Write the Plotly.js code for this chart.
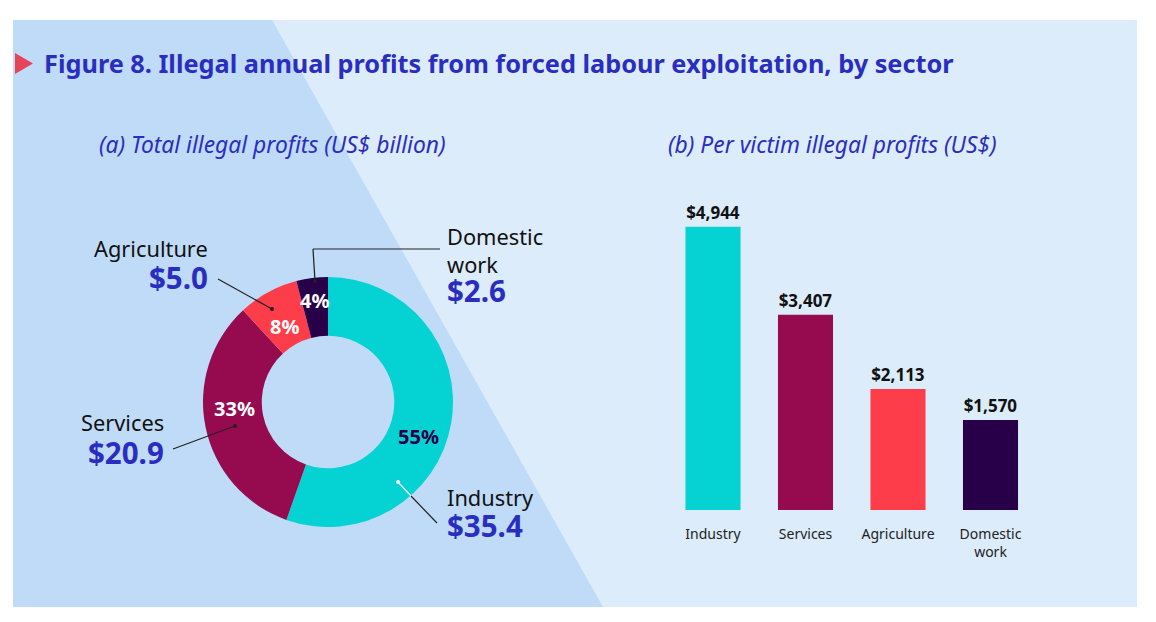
<!DOCTYPE html>
<html>
<head>
<meta charset="utf-8">
<script src="https://cdn.plot.ly/plotly-3.0.1.min.js"></script>
<style>html,body{margin:0;padding:0;background:#fff;}#chart{width:1156px;height:622px;}</style>
</head>
<body>
<div id="chart"></div>
<script>
// ---- data ----
const sectors = ['Industry', 'Services', 'Agriculture', 'Domestic work'];
const sectorLabelLines = ['Industry', 'Services', 'Agriculture', 'Domestic<br>work'];
const totalProfits = [35.4, 20.9, 5.0, 2.6];          // US$ billion
const perVictimProfits = [4944, 3407, 2113, 1570];    // US$
const barTickLabels = ['Industry', 'Services', 'Agriculture', 'Domestic<br>work'];
const titleText = 'Figure 8. Illegal annual profits from forced labour exploitation, by sector';
const subtitleA = '(a) Total illegal profits (US$ billion)';
const subtitleB = '(b) Per victim illegal profits (US$)';

// ---- style ----
const W = 1156, H = 622;
const X = p => p / W;
const Y = p => 1 - p / H;
const sectorColors = ['#05d3d3', '#960b50', '#fe3d4a', '#270049'];
const pctColors = ['#270049', '#ffffff', '#ffffff', '#ffffff'];
const blue = '#2a2ec0';
const FONT = 'Noto Sans, sans-serif';

const pie = {
  type: 'pie',
  labels: sectors,
  values: totalProfits,
  sort: false,
  direction: 'clockwise',
  rotation: 0,
  hole: 0.53,
  marker: {colors: sectorColors, line: {width: 0}},
  textinfo: 'none',
  textposition: 'none',
  showlegend: false,
  hoverinfo: 'label+value+percent',
  domain: {x: [X(203), X(453)], y: [Y(527), Y(277)]}
};

const bars = {
  type: 'bar',
  x: sectors,
  y: perVictimProfits,
  marker: {color: sectorColors, line: {width: 0}},
  texttemplate: '$%{y:,}',
  textposition: 'outside',
  cliponaxis: false,
  textfont: {family: FONT, size: 17, color: '#111', weight: 700},
  showlegend: false,
  hoverinfo: 'x+y'
};

function ann(text, x, y, xa, size, color, extra) {
  return Object.assign({
    text: text, x: X(x), y: Y(y), xref: 'paper', yref: 'paper',
    xanchor: xa, yanchor: 'middle', showarrow: false,
    align: xa === 'right' ? 'right' : (xa === 'left' ? 'left' : 'center'),
    font: {family: FONT, size: size, color: color}
  }, extra || {});
}

const total = totalProfits.reduce((a, b) => a + b, 0);
const pct = i => Math.round(100 * totalProfits[i] / total) + '%';
const money = i => '<b>$' + totalProfits[i].toFixed(1) + '</b>';

// label positions (pixels) around the donut: [name x, name y, value y, anchor]
const labelPos = [[445, 497, 525, 'left'], [166, 422, 452, 'right'], [210, 248, 277, 'right'], [445, 250, 290, 'left']];
const pctPos = [[418, 436], [234, 408], [284, 326], [314, 300]];

const annotations = [
  ann('<b>' + titleText + '</b>', 42, 63, 'left', 25.3, blue),
  ann('<i>' + subtitleA + '</i>', 272.5, 144, 'center', 22.8, blue),
  ann('<i>' + subtitleB + '</i>', 832, 144, 'center', 22.8, blue)
];
for (let i = 0; i < sectors.length; i++) {
  const p = labelPos[i];
  annotations.push(ann(sectorLabelLines[i], p[0], p[1], p[3], 21.8, '#111'));
  annotations.push(ann(money(i), p[0], p[2], p[3], 29.5, blue));
  annotations.push(ann('<b>' + pct(i) + '</b>', pctPos[i][0], pctPos[i][1], 'center', 20, pctColors[i]));
}

function line(x0, y0, x1, y1, color) {
  return {type: 'line', xref: 'paper', yref: 'paper', x0: X(x0), y0: Y(y0), x1: X(x1), y1: Y(y1),
          line: {color: color, width: 1.2}, layer: 'above'};
}
function dot(x, y, color) {
  const r = 2;
  return {type: 'circle', xref: 'paper', yref: 'paper', x0: X(x - r), x1: X(x + r), y0: Y(y + r), y1: Y(y - r),
          fillcolor: color, line: {width: 0}, layer: 'above'};
}

const shapes = [
  {type: 'rect', xref: 'paper', yref: 'paper', x0: X(13), x1: X(1137), y0: Y(607), y1: Y(20),
   fillcolor: '#dcecfb', line: {width: 0}, layer: 'below'},
  {type: 'path', xref: 'paper', yref: 'paper',
   path: 'M' + X(13) + ',' + Y(20) + ' L' + X(272) + ',' + Y(20) + ' L' + X(603) + ',' + Y(607) + ' L' + X(13) + ',' + Y(607) + ' Z',
   fillcolor: '#bfdbf8', line: {width: 0}, layer: 'below'},
  {type: 'path', xref: 'paper', yref: 'paper',
   path: 'M' + X(15) + ',' + Y(53) + ' L' + X(33) + ',' + Y(63.5) + ' L' + X(15) + ',' + Y(74) + ' Z',
   fillcolor: '#e5455b', line: {width: 0}, layer: 'above'},
  // leader lines
  line(218, 279, 272, 309, '#222'), dot(272, 309, '#222'),
  line(440, 249, 313, 249, '#222'), line(313, 249, 315, 281, '#222'), dot(315, 281, '#222'),
  line(173, 449, 235, 426, '#222'), dot(235, 426, '#222'),
  line(437, 523, 411, 496, '#222'), line(411, 496, 398, 482, '#ffffff'), dot(398, 482, '#ffffff')
];

const layout = {
  width: W, height: H,
  margin: {l: 0, r: 0, t: 0, b: 0, pad: 0},
  paper_bgcolor: '#ffffff',
  plot_bgcolor: 'rgba(0,0,0,0)',
  font: {family: FONT, color: '#111'},
  bargap: 0.405,
  xaxis: {
    domain: [X(666.75), X(1036.75)],
    type: 'category',
    tickvals: sectors, ticktext: barTickLabels,
    ticks: 'outside', ticklen: 11, tickcolor: 'rgba(0,0,0,0)',
    tickfont: {family: FONT, size: 14, color: '#222'},
    showgrid: false, zeroline: false, showline: false, fixedrange: true
  },
  yaxis: {
    domain: [Y(510), Y(194.8)],
    range: [0, 5500],
    visible: false, showgrid: false, zeroline: false, fixedrange: true
  },
  shapes: shapes,
  annotations: annotations
};

Plotly.newPlot('chart', [pie, bars], layout, {displayModeBar: false, staticPlot: true});
</script>
</body>
</html>
